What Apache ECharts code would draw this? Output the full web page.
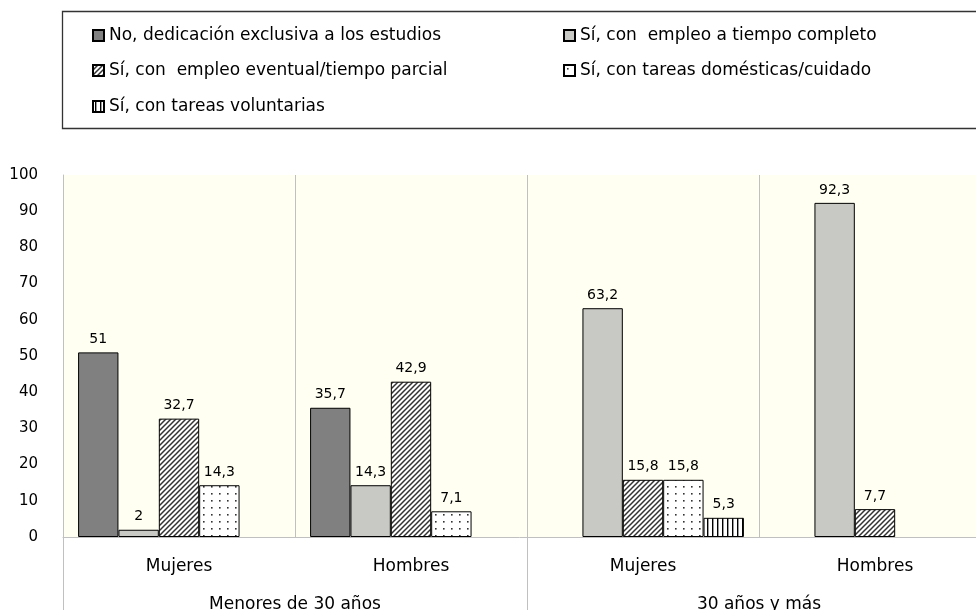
<!DOCTYPE html>
<html>
<head>
<meta charset="utf-8">
<script src="https://cdn.jsdelivr.net/npm/echarts@6/dist/echarts.min.js"></script>
<style>
  html, body { margin: 0; padding: 0; background: #fff; overflow: hidden; }
  #chart { width: 976px; height: 610px; }
</style>
</head>
<body>
<div id="chart"></div>
<script>
// datos
var categorias = ['Mujeres', 'Hombres', 'Mujeres', 'Hombres'];
var grupos = ['Menores de 30 años', '30 años y más'];
var nombres = [
  'No, dedicación exclusiva a los estudios',
  'Sí, con  empleo a tiempo completo',
  'Sí, con  empleo eventual/tiempo parcial',
  'Sí, con tareas domésticas/cuidado',
  'Sí, con tareas voluntarias'
];
var exclusiva = [51, 35.7, null, null];
var completo = [2, 14.3, 63.2, 92.3];
var eventual = [32.7, 42.9, 15.8, 7.7];
var domesticas = [14.3, 7.1, 15.8, null];
var voluntarias = [null, null, 5.3, null];

var FONT = 'DejaVu Sans';

// tramas
function trama(w, h, draw) {
  var c = document.createElement('canvas');
  c.width = w; c.height = h;
  var ctx = c.getContext('2d');
  ctx.fillStyle = '#fff';
  ctx.fillRect(0, 0, w, h);
  draw(ctx);
  return { image: c, repeat: 'repeat' };
}
var rayado = trama(5, 5, function (ctx) {
  ctx.strokeStyle = '#333';
  ctx.lineWidth = 1.5;
  ctx.beginPath();
  ctx.moveTo(-1, 6); ctx.lineTo(6, -1);
  ctx.moveTo(-1, 1); ctx.lineTo(1, -1);
  ctx.moveTo(4, 6); ctx.lineTo(6, 4);
  ctx.stroke();
});
var puntos = trama(8, 7, function (ctx) {
  ctx.fillStyle = '#333';
  ctx.fillRect(3, 3, 1.6, 1.6);
});
var vertical = trama(5, 5, function (ctx) {
  ctx.fillStyle = '#000';
  ctx.fillRect(2, 0, 1.4, 5);
});

var colores = ['#808080', '#c8c8c4', rayado, puntos, vertical];
var valores = [exclusiva, completo, eventual, domesticas, voluntarias];

var legendPos = [
  { left: 92, top: 27 }, { left: 563, top: 27 },
  { left: 92, top: 62 }, { left: 563, top: 62 },
  { left: 92, top: 98 }
];

var chart = echarts.init(document.getElementById('chart'));
chart.setOption({
  animation: false,
  textStyle: { fontFamily: FONT },
  graphic: [{
    type: 'rect',
    shape: { x: 62.5, y: 11.5, width: 960, height: 117 },
    style: { fill: 'none', stroke: '#333', lineWidth: 1.3 }
  }],
  legend: nombres.map(function (n, i) {
    return {
      data: [n],
      left: legendPos[i].left,
      top: legendPos[i].top,
      padding: 0,
      itemWidth: 11,
      itemHeight: 11,
      icon: 'rect',
      selectedMode: false,
      textStyle: { fontFamily: FONT, fontSize: 17, color: '#000' }
    };
  }),
  grid: {
    left: 63, top: 175, width: 928, height: 362,
    outerBoundsMode: 'none',
    containLabel: false,
    show: true, backgroundColor: '#fffff2', borderWidth: 0
  },
  xAxis: [{
    type: 'category',
    data: categorias,
    position: 'bottom',
    axisLine: { lineStyle: { color: '#c0c0c0', width: 1 } },
    axisTick: { show: false },
    splitLine: { show: true, lineStyle: { color: '#c0c0c0', width: 1 } },
    axisLabel: { interval: 0, margin: 21, fontSize: 17, color: '#000', fontFamily: FONT }
  }, {
    type: 'category',
    data: grupos,
    position: 'bottom',
    axisLine: { show: false },
    axisTick: { show: true, length: 80, lineStyle: { color: '#c0c0c0', width: 1 } },
    axisLabel: { interval: 0, margin: 59, fontSize: 17, color: '#000', fontFamily: FONT }
  }],
  yAxis: {
    type: 'value',
    min: 0, max: 100, interval: 10,
    axisLine: { show: true, lineStyle: { color: '#c0c0c0', width: 1 } },
    axisTick: { show: false },
    splitLine: { show: false },
    axisLabel: { margin: 25, fontSize: 15, color: '#000', fontFamily: FONT, padding: [6, 0, 0, 0] }
  },
  series: nombres.map(function (n, i) {
    return {
      name: n,
      type: 'bar',
      xAxisIndex: 0,
      data: valores[i],
      barGap: '0%',
      barCategoryGap: '13%',
      itemStyle: { color: colores[i], borderColor: '#000', borderWidth: 1 },
      label: {
        show: true,
        position: 'top',
        distance: 6,
        fontSize: 14,
        color: '#000',
        fontFamily: FONT,
        formatter: function (p) { return String(p.value).replace('.', ','); }
      }
    };
  })
});
</script>
</body>
</html>
